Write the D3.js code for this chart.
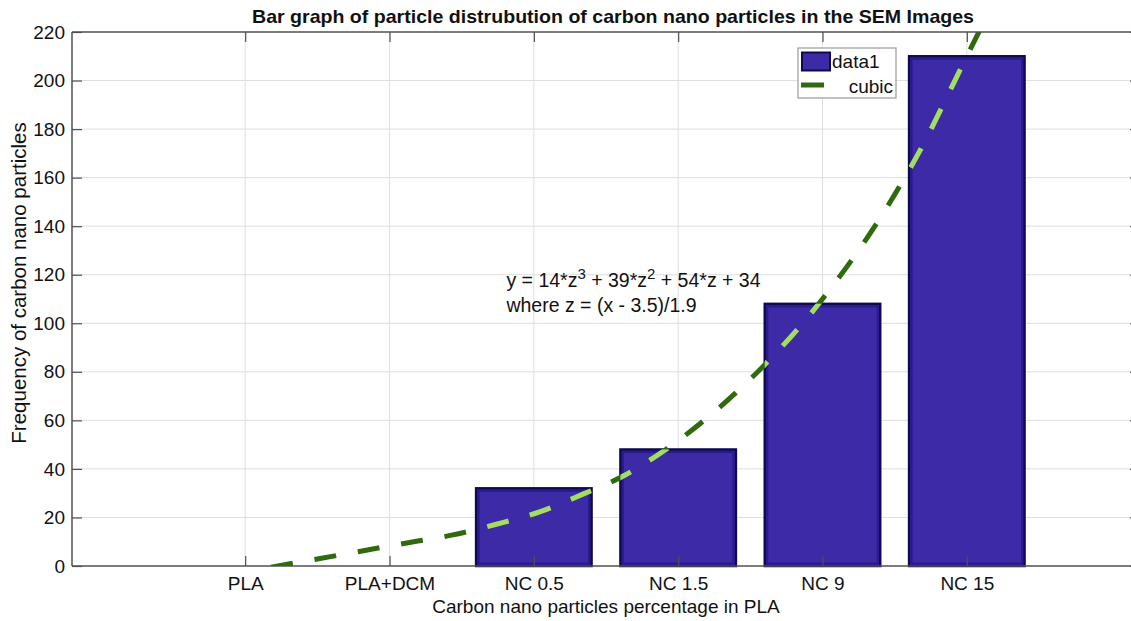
<!DOCTYPE html>
<html>
<head>
<meta charset="utf-8">
<script src="https://cdn.jsdelivr.net/npm/d3@7"></script>
<style>
  html, body { margin: 0; padding: 0; background: #fff; }
  svg { display: block; font-family: "Liberation Sans", Arial, Helvetica, sans-serif; }
</style>
</head>
<body>
<svg id="chart" width="1131" height="621"></svg>
<script>
// ---- data ----
const categories = ["PLA", "PLA+DCM", "NC 0.5", "NC 1.5", "NC 9", "NC 15"];
const frequencies = [0, 0, 32, 48, 108, 210];
const yTicks = [0, 20, 40, 60, 80, 100, 120, 140, 160, 180, 200, 220];
// cubic fit curve points (x in category units, 1 = PLA)
const fitX = [1.18, 1.49, 1.81, 2.12, 2.43, 2.74, 3.04, 3.34, 3.63, 3.91, 4.25, 4.5, 5.0, 5.5, 5.71, 5.86, 6.0, 6.08, 6.15];
const fitY = [-0.5, 2.8, 6.2, 9.5, 12.7, 17.2, 22.3, 29.6, 37.4, 47.8, 63.5, 77, 110, 153, 175, 193, 210, 219.5, 228];
const titleText = "Bar graph of particle distrubution of carbon nano particles in the SEM Images";
const xLabel = "Carbon nano particles percentage in PLA";
const yLabel = "Frequency of carbon nano particles";
const legendLabels = ["data1", "cubic"];

// ---- layout ----
const svg = d3.select("#chart");
const L = 72, R = 1140, T = 32, B = 566;
const x = d3.scaleLinear().domain([-0.2, 7.2]).range([L, R]);
const y = d3.scaleLinear().domain([0, 220]).range([B, T]);
const catPos = categories.map((c, i) => i + 1);
const barW = 0.8;

const barFill = "#3d2aa6", barEdge = "#0e0a50";
const darkGreen = "#2f6a0c", lightGreen = "#a4dc68";
const gridColor = "#dedede", axisColor = "#505050";

// grid
const grid = svg.append("g");
grid.selectAll("line.h").data(yTicks.slice(1, -1)).join("line")
  .attr("x1", L).attr("x2", R).attr("y1", d => y(d)).attr("y2", d => y(d))
  .attr("stroke", gridColor).attr("stroke-width", 1);
grid.selectAll("line.v").data(catPos).join("line")
  .attr("x1", d => x(d)).attr("x2", d => x(d)).attr("y1", T).attr("y2", B)
  .attr("stroke", gridColor).attr("stroke-width", 1);

// clip for plot area
const defs = svg.append("defs");
defs.append("clipPath").attr("id", "plotClip").append("rect")
  .attr("x", L).attr("y", T).attr("width", R - L).attr("height", B - T);
const barClip = defs.append("clipPath").attr("id", "barClip");
barClip.selectAll("rect").data(frequencies).join("rect")
  .attr("x", (d, i) => x(catPos[i] - barW / 2)).attr("width", (d, i) => x(catPos[i] + barW / 2) - x(catPos[i] - barW / 2))
  .attr("y", d => y(d)).attr("height", d => y(0) - y(d));

// bars
const bars = svg.append("g");
const barData = frequencies.map((v, i) => ({ v, p: catPos[i] })).filter(d => d.v > 0);
bars.selectAll("rect.outer").data(barData).join("rect")
  .attr("x", d => x(d.p - barW / 2)).attr("width", d => x(d.p + barW / 2) - x(d.p - barW / 2))
  .attr("y", d => y(d.v)).attr("height", d => y(0) - y(d.v))
  .attr("fill", barFill).attr("stroke", barEdge).attr("stroke-width", 2.5);
bars.selectAll("rect.inner").data(barData).join("rect")
  .attr("x", d => x(d.p - barW / 2) + 2.5).attr("width", d => x(d.p + barW / 2) - x(d.p - barW / 2) - 5)
  .attr("y", d => y(d.v) + 2.5).attr("height", d => y(0) - y(d.v) - 5)
  .attr("fill", "none").attr("stroke", "#2a1b8c").attr("stroke-width", 2);

// cubic curve
const fitData = fitX.map((v, i) => [v, fitY[i]]);
const line = d3.line().x(d => x(d[0])).y(d => y(d[1])).curve(d3.curveMonotoneX);
const dash = "22,22";
svg.append("g").attr("clip-path", "url(#plotClip)")
  .append("path").attr("d", line(fitData))
  .attr("fill", "none").attr("stroke", darkGreen).attr("stroke-width", 5)
  .attr("stroke-dasharray", dash);
svg.append("g").attr("clip-path", "url(#barClip)")
  .append("path").attr("d", line(fitData))
  .attr("fill", "none").attr("stroke", lightGreen).attr("stroke-width", 5)
  .attr("stroke-dasharray", dash);

// axes frame
const ax = svg.append("g");
ax.append("line").attr("x1", L).attr("x2", R).attr("y1", B).attr("y2", B).attr("stroke", axisColor).attr("stroke-width", 1.5);
ax.append("line").attr("x1", L).attr("x2", R).attr("y1", T).attr("y2", T).attr("stroke", axisColor).attr("stroke-width", 1.5);
ax.append("line").attr("x1", L).attr("x2", L).attr("y1", T).attr("y2", B).attr("stroke", axisColor).attr("stroke-width", 1.5);
ax.append("line").attr("x1", R).attr("x2", R).attr("y1", T).attr("y2", B).attr("stroke", axisColor).attr("stroke-width", 1.5);

// y axis (left) using d3 axis
const yAxis = d3.axisLeft(y).tickValues(yTicks).tickSize(-10).tickPadding(7);
const gy = svg.append("g").attr("transform", `translate(${L},0)`).call(yAxis);
gy.select(".domain").remove();
gy.selectAll(".tick line").attr("stroke", axisColor).attr("stroke-width", 1.2);
gy.selectAll(".tick text").attr("font-size", 19).attr("fill", "#111").attr("font-family", "Liberation Sans, Arial, sans-serif");
const yAxisR = d3.axisRight(y).tickValues(yTicks).tickSize(-10).tickFormat("");
const gyr = svg.append("g").attr("transform", `translate(${R},0)`).call(yAxisR);
gyr.select(".domain").remove();
gyr.selectAll(".tick line").attr("stroke", axisColor).attr("stroke-width", 1.2);

// x axis
const xAxis = d3.axisBottom(x).tickValues(catPos).tickFormat((d, i) => categories[i]).tickSize(-10).tickPadding(11);
const gx = svg.append("g").attr("transform", `translate(0,${B})`).call(xAxis);
gx.select(".domain").remove();
gx.selectAll(".tick line").attr("stroke", axisColor).attr("stroke-width", 1.2);
gx.selectAll(".tick text").attr("font-size", 19).attr("fill", "#111").attr("font-family", "Liberation Sans, Arial, sans-serif");
const xAxisT = d3.axisTop(x).tickValues(catPos).tickFormat("").tickSize(-10);
const gxt = svg.append("g").attr("transform", `translate(0,${T})`).call(xAxisT);
gxt.select(".domain").remove();
gxt.selectAll(".tick line").attr("stroke", axisColor).attr("stroke-width", 1.2);

// equation text
const eq = svg.append("text").attr("x", x(2.81)).attr("y", y(115)).attr("font-size", 19.5).attr("fill", "#111");
eq.append("tspan").text("y = 14*z");
eq.append("tspan").attr("dy", -8).attr("font-size", 15).text("3");
eq.append("tspan").attr("dy", 8).text(" + 39*z");
eq.append("tspan").attr("dy", -8).attr("font-size", 15).text("2");
eq.append("tspan").attr("dy", 8).text(" + 54*z + 34");
svg.append("text").attr("x", x(2.81)).attr("y", y(104.5)).attr("font-size", 19.5).attr("fill", "#111")
  .text("where z = (x - 3.5)/1.9");

// legend
const lg = svg.append("g").attr("transform", "translate(798,48)");
lg.append("rect").attr("width", 98).attr("height", 50).attr("fill", "#fff").attr("stroke", "#9a9a9a").attr("stroke-width", 1.2);
lg.append("rect").attr("x", 4).attr("y", 4.5).attr("width", 28).attr("height", 18)
  .attr("fill", barFill).attr("stroke", barEdge).attr("stroke-width", 2);
lg.append("text").attr("x", 34).attr("y", 20).attr("font-size", 19).attr("fill", "#111").text(legendLabels[0]);
lg.append("line").attr("x1", 3).attr("x2", 26).attr("y1", 37).attr("y2", 37).attr("stroke", darkGreen).attr("stroke-width", 5);
lg.append("text").attr("x", 95).attr("y", 45).attr("text-anchor", "end").attr("font-size", 19).attr("fill", "#111").text(legendLabels[1]);

// title and labels
svg.append("text").attr("x", 613).attr("y", 23).attr("text-anchor", "middle")
  .attr("font-size", 19).attr("font-weight", "bold").attr("fill", "#111")
  .attr("textLength", 722).attr("lengthAdjust", "spacingAndGlyphs").text(titleText);
svg.append("text").attr("x", (L + R) / 2).attr("y", 613).attr("text-anchor", "middle")
  .attr("font-size", 19).attr("fill", "#111").text(xLabel);
svg.append("text").attr("transform", `translate(26,283) rotate(-90)`).attr("text-anchor", "middle")
  .attr("font-size", 20.5).attr("fill", "#111").text(yLabel);
</script>
</body>
</html>
